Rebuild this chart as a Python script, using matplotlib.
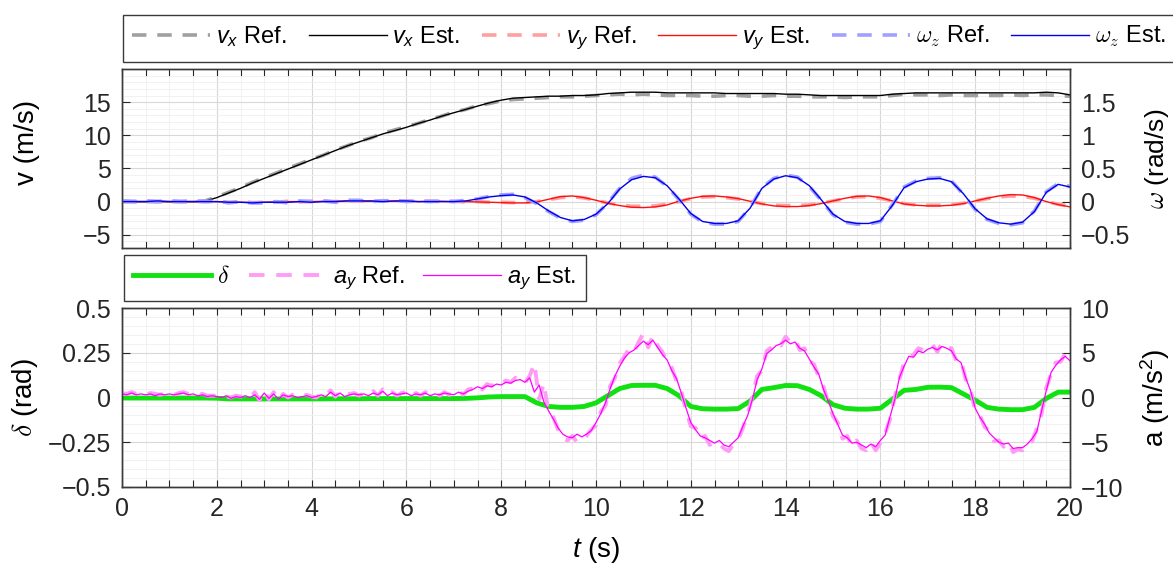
import matplotlib
matplotlib.use("Agg")
import matplotlib.pyplot as plt
import numpy as np
from matplotlib.ticker import MultipleLocator, FuncFormatter

plt.rcParams['font.family'] = ['Liberation Sans', 'DejaVu Sans']
plt.rcParams['mathtext.fontset'] = 'custom'
plt.rcParams['mathtext.rm'] = 'Liberation Sans'
plt.rcParams['mathtext.it'] = 'Liberation Sans:italic'
plt.rcParams['mathtext.bf'] = 'Liberation Sans:bold'

# ---- upper panel data (sampled every 0.25 s, one line = one second) ----
vx_est = [0, 0, 0, 0,
          0, 0, 0, 0.05,
          0.6, 1.3, 2.0, 2.8,
          3.5, 4.2, 4.9, 5.6,
          6.3, 7.0, 7.7, 8.4,
          9.0, 9.6, 10.2, 10.7,
          11.2, 11.8, 12.3, 12.9,
          13.4, 13.9, 14.4, 14.9,
          15.3, 15.6, 15.7, 15.8,
          15.9, 15.9, 16.0, 16.0,
          16.1, 16.3, 16.4, 16.5,
          16.5, 16.5, 16.4, 16.4,
          16.4, 16.4, 16.4, 16.3,
          16.3, 16.3, 16.3, 16.3,
          16.2, 16.2, 16.1, 16.0,
          16.0, 16.0, 16.0, 16.0,
          16.0, 16.2, 16.3, 16.4,
          16.4, 16.4, 16.4, 16.4,
          16.4, 16.4, 16.4, 16.4,
          16.4, 16.4, 16.5, 16.4,
          16.1]
vx_ref = [0, 0, 0, 0,
          0, 0, 0, 0.1,
          0.7, 1.4, 2.1, 2.9,
          3.6, 4.3, 5.0, 5.7,
          6.4, 7.0, 7.8, 8.4,
          9.1, 9.6, 10.3, 10.8,
          11.3, 11.8, 12.4, 12.9,
          13.5, 13.9, 14.5, 14.8,
          15.2, 15.4, 15.5, 15.6,
          15.7, 15.8, 15.8, 15.9,
          16.0, 16.1, 16.2, 16.1,
          16.2, 16.1, 16.0, 16.0,
          16.0, 15.9, 15.9, 16.0,
          16.0, 15.9, 15.9, 16.0,
          15.9, 15.9, 15.8, 15.8,
          15.8, 15.7, 15.8, 15.8,
          15.8, 16.0, 16.2, 16.1,
          16.1, 16.0, 16.1, 16.0,
          16.0, 16.0, 16.0, 16.1,
          16.0, 16.1, 16.1, 16.0,
          15.9]
vy_est = [0.0, 0.0, 0.0, 0.0,
          0.0, 0.0, 0.0, 0.0,
          0.0, -0.05, -0.1, -0.1,
          -0.1, -0.05, 0.0, 0.0,
          0.0, 0.05, 0.05, 0.1,
          0.05, 0.05, 0.1, 0.05,
          0.05, 0.0, 0.05, 0.05,
          0.0, 0.0, -0.05, -0.1,
          -0.15, -0.2, -0.2, -0.05,
          0.35, 0.75, 0.85, 0.6,
          0.2, -0.25, -0.6, -0.85,
          -0.9, -0.8, -0.5, 0.05,
          0.5, 0.8, 0.85, 0.7,
          0.45, 0.05, -0.35, -0.65,
          -0.75, -0.75, -0.6, -0.3,
          0.1, 0.5, 0.8, 0.85,
          0.6, 0.1, -0.35, -0.55,
          -0.65, -0.65, -0.55, -0.3,
          0.1, 0.5, 0.85, 1.05,
          1.0, 0.6, 0.0, -0.45,
          -0.8]
vy_ref = [0.05, 0.0, 0.05, 0.0,
          0.05, 0.0, 0.05, 0.0,
          0.0, -0.1, -0.05, -0.15,
          -0.1, -0.1, 0.05, -0.05,
          0.05, 0.1, 0.0, 0.1,
          0.1, 0.0, 0.15, 0.05,
          0.1, 0.0, 0.1, 0.0,
          0.05, -0.05, 0.0, -0.1,
          -0.1, -0.15, -0.1, 0.0,
          0.3, 0.6, 0.75, 0.55,
          0.2, -0.2, -0.5, -0.7,
          -0.7, -0.65, -0.4, 0.0,
          0.45, 0.7, 0.75, 0.6,
          0.4, 0.05, -0.3, -0.55,
          -0.6, -0.6, -0.5, -0.25,
          0.1, 0.45, 0.7, 0.75,
          0.5, 0.1, -0.3, -0.5,
          -0.55, -0.55, -0.45, -0.25,
          0.1, 0.45, 0.7, 0.85,
          0.8, 0.5, 0.0, -0.4,
          -0.7]
wz_est = [0.00, 0.00, 0.00, 0.01,
          0.00, 0.00, 0.00, 0.00,
          0.00, -0.01, -0.01, -0.02,
          -0.01, -0.01, -0.01, 0.00,
          -0.01, 0.00, 0.00, 0.01,
          0.01, 0.01, 0.00, 0.01,
          0.01, 0.00, 0.00, 0.00,
          0.00, 0.01, 0.04, 0.07,
          0.09, 0.10, 0.07, -0.02,
          -0.14, -0.24, -0.29, -0.27,
          -0.19, -0.03, 0.19, 0.33,
          0.38, 0.36, 0.24, 0.04,
          -0.18, -0.30, -0.33, -0.33,
          -0.29, -0.10, 0.20, 0.34,
          0.39, 0.36, 0.24, 0.03,
          -0.19, -0.30, -0.33, -0.33,
          -0.29, -0.06, 0.21, 0.30,
          0.34, 0.35, 0.30, 0.12,
          -0.11, -0.26, -0.32, -0.34,
          -0.31, -0.15, 0.14, 0.26,
          0.22]
wz_ref = [0.01, 0.00, 0.01, 0.00,
          0.01, 0.00, 0.01, 0.00,
          0.01, -0.02, 0.00, -0.02,
          -0.02, 0.00, -0.02, 0.01,
          0.00, 0.01, -0.01, 0.02,
          0.02, 0.00, 0.01, 0.02,
          0.00, 0.01, 0.00, 0.01,
          0.00, 0.02, 0.04, 0.08,
          0.10, 0.11, 0.06, -0.03,
          -0.15, -0.25, -0.30, -0.28,
          -0.20, -0.02, 0.20, 0.35,
          0.40, 0.37, 0.23, 0.03,
          -0.19, -0.31, -0.34, -0.34,
          -0.30, -0.09, 0.21, 0.35,
          0.40, 0.37, 0.23, 0.02,
          -0.20, -0.31, -0.34, -0.34,
          -0.30, -0.05, 0.22, 0.31,
          0.35, 0.36, 0.31, 0.11,
          -0.12, -0.27, -0.33, -0.35,
          -0.32, -0.14, 0.15, 0.27,
          0.23]

# ---- lower panel data ----
delta = [-0.003, -0.003, -0.003, -0.003,
         -0.003, -0.003, -0.003, -0.003,
         -0.004, -0.008, -0.008, -0.008,
         -0.008, -0.008, -0.008, -0.008,
         -0.008, -0.008, -0.007, -0.007,
         -0.007, -0.006, -0.006, -0.006,
         -0.006, -0.006, -0.006, -0.006,
         -0.006, -0.005, -0.002, 0.003,
         0.005, 0.005, 0.005, -0.030,
         -0.050, -0.055, -0.055, -0.050,
         -0.030, 0.010, 0.050, 0.067,
         0.068, 0.068, 0.050, 0.010,
         -0.050, -0.063, -0.065, -0.065,
         -0.062, -0.020, 0.045, 0.055,
         0.067, 0.066, 0.045, 0.010,
         -0.040, -0.060, -0.065, -0.065,
         -0.060, -0.010, 0.040, 0.045,
         0.057, 0.058, 0.055, 0.020,
         -0.015, -0.055, -0.065, -0.068,
         -0.068, -0.055, -0.005, 0.030,
         0.030]
# a_y sampled every 0.1 s (one line = one second)
ay_est = [0.4, 0.3, 0.5, 0.3, 0.4, 0.3, 0.4, 0.2, 0.4, 0.3,
          0.4, 0.3, 0.4, 0.5, 0.3, 0.4, 0.2, 0.3, 0.1, 0.2,
          0.1, 0.0, 0.2, -0.1, 0.1, 0.0, 0.2, 0.0, 0.3, -0.2,
          0.5, -0.1, 0.4, -0.2, 0.3, 0.1, 0.2, 0.0, 0.1, 0.2,
          0.0, 0.1, 0.3, 0.1, 0.6, 0.2, 0.5, 0.1, 0.3, 0.4,
          0.3, 0.4, 0.2, 0.5, 0.3, 0.7, 0.2, 0.5, 0.3, 0.4,
          0.5, 0.2, 0.4, 0.3, 0.5, 0.2, 0.4, 0.3, 0.5, 0.4,
          0.3, 0.6, 0.4, 0.7, 0.9, 1.2, 1.0, 1.3, 1.2, 1.5,
          1.4, 1.7, 1.6, 1.9, 2.0, 1.7, 2.2, 0.6, 1.4, -0.5,
          -1.5, -2.4, -3.4, -4.1, -4.4, -4.5, -4.1, -4.4, -4.1, -3.7,
          -2.8, -1.8, -0.6, 1.0, 2.4, 3.5, 4.4, 5.0, 5.3, 5.8,
          6.3, 5.9, 6.4, 5.6, 4.8, 4.2, 3.0, 2.1, 0.5, -1.2,
          -2.8, -3.6, -4.3, -4.5, -4.8, -5.1, -4.8, -5.3, -5.5, -5.0,
          -4.5, -3.2, -2.0, -0.2, 2.0, 3.2, 4.9, 5.3, 5.8, 6.0,
          6.4, 6.0, 6.2, 5.5, 5.2, 4.3, 3.4, 2.6, 0.9, -0.4,
          -1.8, -3.0, -4.2, -4.5, -5.1, -5.0, -5.3, -5.6, -5.2, -5.5,
          -4.8, -4.2, -2.2, -0.3, 2.2, 3.5, 4.6, 4.5, 5.2, 5.0,
          5.4, 5.6, 5.3, 5.7, 5.5, 5.2, 4.3, 3.9, 2.2, 0.8,
          -1.2, -2.2, -3.0, -4.0, -4.5, -5.0, -5.2, -5.1, -5.7, -5.6,
          -5.6, -5.2, -4.6, -3.8, -1.5, 0.8, 2.8, 3.6, 4.2, 4.6,
          4.1]
ay_ref = [0.5, 0.4, 0.6, 0.4, 0.5, 0.3, 0.5, 0.4, 0.3, 0.4,
          0.5, 0.3, 0.5, 0.6, 0.4, 0.5, 0.3, 0.4, 0.2, 0.2,
          0.2, 0.1, 0.1, 0.0, 0.2, 0.1, 0.1, 0.0, 0.6, -0.3,
          0.7, -0.2, 0.6, -0.3, 0.4, 0.0, 0.3, 0.1, 0.2, 0.3,
          0.1, 0.0, 0.4, 0.2, 0.8, 0.1, 0.6, 0.2, 0.4, 0.5,
          0.2, 0.5, 0.3, 0.7, 0.2, 0.9, 0.3, 0.6, 0.2, 0.5,
          0.6, 0.1, 0.5, 0.2, 0.6, 0.3, 0.5, 0.2, 0.6, 0.3,
          0.4, 0.8, 0.3, 0.9, 1.0, 1.4, 0.9, 1.5, 1.3, 1.7,
          1.5, 1.9, 1.7, 2.2, 2.1, 1.6, 2.4, 3.8, -0.2, 1.6,
          -1.8, -2.2, -3.6, -4.5, -4.8, -4.3, -5.0, -4.6, -4.3, -3.6,
          -3.1, -1.6, -0.9, 1.3, 2.2, 3.8, 4.6, 5.5, 5.1, 6.2,
          7.2, 5.6, 6.9, 5.8, 5.1, 4.0, 3.3, 1.8, 0.7, -1.5,
          -3.2, -3.4, -4.6, -4.3, -5.3, -5.0, -5.1, -5.7, -6.0, -5.2,
          -4.7, -3.4, -1.8, 0.1, 2.4, 3.0, 5.2, 5.6, 6.1, 5.8,
          6.8, 6.2, 6.5, 5.3, 5.5, 4.1, 3.7, 2.3, 1.2, -0.6,
          -2.1, -2.8, -4.6, -4.3, -5.5, -4.8, -5.7, -5.9, -5.0, -5.9,
          -5.1, -4.0, -2.5, 0.0, 2.0, 3.9, 4.4, 4.8, 5.5, 5.3,
          5.7, 5.9, 5.1, 6.1, 5.6, 5.5, 4.1, 4.2, 2.0, 1.0,
          -1.5, -2.0, -3.3, -3.7, -4.9, -4.8, -5.5, -5.0, -6.1, -5.8,
          -5.9, -5.1, -4.9, -3.5, -1.8, 1.1, 2.6, 3.9, 4.0, 4.9,
          4.2]

t = np.arange(len(vx_est)) * 0.25
ta = np.arange(len(ay_est)) * 0.1

W, H = 1173, 569
fig = plt.figure(figsize=(W / 100, H / 100), dpi=100)
ax1 = fig.add_axes([122 / W, 1 - 248 / H, 948 / W, 179 / H])
ax3 = fig.add_axes([122 / W, 1 - 487 / H, 948 / W, 179 / H])
ax2 = ax1.twinx()
ax4 = ax3.twinx()

dash = (0, (4, 3))
h_vxr, = ax1.plot(t, vx_ref, color='#a0a0a0', lw=2.6, ls=dash)
h_vyr, = ax1.plot(t, vy_ref, color='#ffa0a0', lw=2.6, ls=dash)
h_vx, = ax1.plot(t, vx_est, color='black', lw=1.0)
h_vy, = ax1.plot(t, vy_est, color='#ff1010', lw=1.0)
h_wzr, = ax2.plot(t, wz_ref, color='#a0a0ff', lw=2.6, ls=dash)
h_wz, = ax2.plot(t, wz_est, color='#0000ee', lw=1.0)

h_d, = ax3.plot(t, delta, color='#11e011', lw=3.5)
h_ayr, = ax4.plot(ta, ay_ref, color='#ff9cf5', lw=2.8, ls=dash)
h_ay, = ax4.plot(ta, ay_est, color='#ff00ff', lw=0.9)

minus = lambda v, p: f'{v:g}'.replace('-', '\u2212')
TS = 18
for ax in (ax1, ax3):
    ax.set_xlim(0, 20)
    ax.xaxis.set_major_locator(MultipleLocator(2))
    ax.xaxis.set_minor_locator(MultipleLocator(0.5))
    ax.grid(True, which='major', color='#d8d8d8', lw=0.8)
    ax.grid(True, which='minor', color='#efefef', lw=0.6)
    ax.set_axisbelow(True)
    ax.tick_params(axis='x', which='both', direction='in', top=True,
                   length=5, width=0.8, colors='#262626', labelsize=TS, pad=7)
    ax.tick_params(axis='y', which='major', direction='in', length=6,
                   width=0.8, colors='#262626', labelsize=TS, pad=8)
    ax.tick_params(axis='y', which='minor', length=0)
    ax.yaxis.set_major_formatter(FuncFormatter(minus))
for ax in (ax2, ax4):
    ax.tick_params(axis='y', which='major', direction='in', length=6,
                   width=0.8, colors='#262626', labelsize=TS, pad=8)
    ax.yaxis.set_major_formatter(FuncFormatter(minus))
for ax in (ax1, ax2, ax3, ax4):
    for s in ax.spines.values():
        s.set_color('#3a3a3a')
        s.set_linewidth(1.0)

ax1.tick_params(axis='x', labelbottom=False)
ax1.set_ylim(-7, 20)
ax1.set_yticks([-5, 0, 5, 10, 15])
ax1.yaxis.set_minor_locator(MultipleLocator(1))
ax2.set_ylim(-0.7, 2.0)
ax2.set_yticks([-0.5, 0, 0.5, 1, 1.5])
ax3.set_ylim(-0.5, 0.5)
ax3.set_yticks([-0.5, -0.25, 0, 0.25, 0.5])
ax3.yaxis.set_minor_locator(MultipleLocator(0.05))
ax4.set_ylim(-10, 10)
ax4.set_yticks([-10, -5, 0, 5, 10])

LS = 20
ax1.set_ylabel('v (m/s)', fontsize=LS)
ax1.yaxis.set_label_coords(-0.0865, 0.59)
ax2.set_ylabel(r'$\omega$ (rad/s)', fontsize=19, math_fontfamily='cm')
ax2.yaxis.set_label_coords(1.077, 0.5)
ax3.set_ylabel(r'$\delta$ (rad)', fontsize=LS, math_fontfamily='cm')
ax3.yaxis.set_label_coords(-0.0865, 0.5)
ax4.set_ylabel(r'a (m/s$^2$)', fontsize=LS)
ax4.yaxis.set_label_coords(1.072, 0.5)
ax3.set_xlabel(r'$t$ (s)', fontsize=LS)
ax3.xaxis.set_label_coords(0.5, -0.268)

leg_kw = dict(frameon=True, fancybox=False, edgecolor='#3a3a3a', fontsize=17,
              handlelength=3.3, handletextpad=0.25, columnspacing=0.93,
              borderaxespad=0, borderpad=0.4, framealpha=1)
leg1 = fig.legend([h_vxr, h_vx, h_vyr, h_vy, h_wzr, h_wz],
                  [r'$v_x$ Ref.', r'$v_x$ Est.', r'$v_y$ Ref.', r'$v_y$ Est.',
                   r'$\omega_z$ Ref.', r'$\omega_z$ Est.'],
                  loc='upper left', bbox_to_anchor=(123 / W, 1 - 15 / H),
                  ncol=6, **leg_kw)
leg1.get_frame().set_linewidth(1.0)
for txt in leg1.get_texts()[4:]:
    txt.set_math_fontfamily('cm')

leg2 = fig.legend([h_d, h_ayr, h_ay],
                  [r'$\delta$', r'$a_y$ Ref.', r'$a_y$ Est.'],
                  loc='upper left', bbox_to_anchor=(124 / W, 1 - 255 / H),
                  ncol=3, **dict(leg_kw, columnspacing=0.8))
leg2.get_frame().set_linewidth(1.0)
leg2.get_texts()[0].set_math_fontfamily('cm')

plt.savefig('out.png', dpi=100)
